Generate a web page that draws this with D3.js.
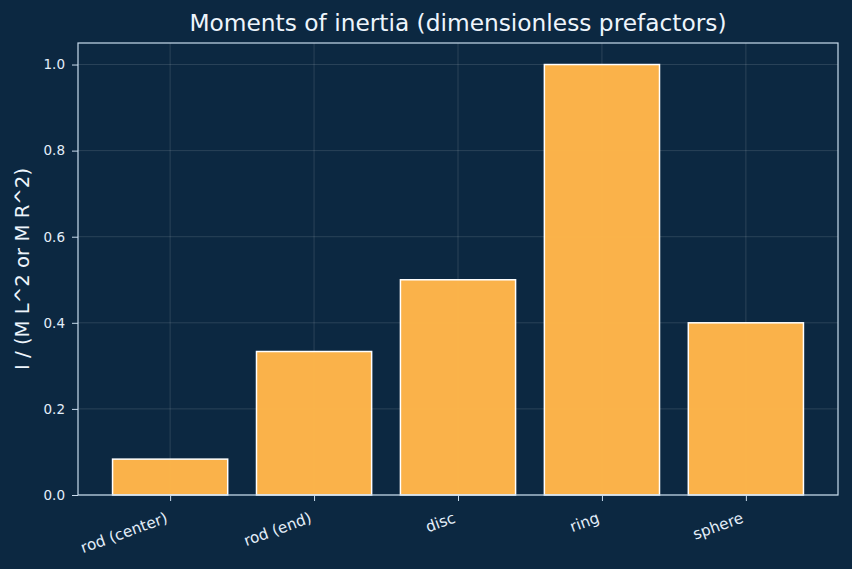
<!DOCTYPE html>
<html><head><meta charset="utf-8">
<script src="https://cdn.jsdelivr.net/npm/d3@7"></script>
<style>html,body{margin:0;padding:0;background:#0c2841;}svg{display:block;font-family:"DejaVu Sans",sans-serif;}</style>
</head><body><div id="chart"></div>
<script>
const categories = ["rod (center)", "rod (end)", "disc", "ring", "sphere"];
const values = [1/12, 1/3, 0.5, 1.0, 0.4];
const yTicks = [0.0, 0.2, 0.4, 0.6, 0.8, 1.0];
const title = "Moments of inertia (dimensionless prefactors)";
const yLabel = "I / (M L^2 or M R^2)";

const W = 852, H = 569;
const m = {left: 78, right: 14, top: 43, bottom: 74};
const bg = "#0c2841", fg = "#e3eef9", spine = "#c9dced";

const svg = d3.select("#chart").append("svg").attr("width", W).attr("height", H);
svg.append("rect").attr("width", W).attr("height", H).attr("fill", bg);

const x = d3.scaleLinear().domain([-0.64, categories.length - 1 + 0.64]).range([m.left, W - m.right]);
const y = d3.scaleLinear().domain([0, 1.05]).range([H - m.bottom, m.top]);

// grid
const g = svg.append("g");
g.selectAll(".gy").data(yTicks).join("line")
  .attr("x1", m.left).attr("x2", W - m.right)
  .attr("y1", d => y(d)).attr("y2", d => y(d))
  .attr("stroke", "#ffffff").attr("stroke-opacity", 0.16).attr("stroke-width", 0.8);
g.selectAll(".gx").data(categories).join("line")
  .attr("x1", (d, i) => x(i)).attr("x2", (d, i) => x(i))
  .attr("y1", m.top).attr("y2", H - m.bottom)
  .attr("stroke", "#ffffff").attr("stroke-opacity", 0.16).attr("stroke-width", 0.8);

// bars
svg.append("g").selectAll("rect").data(values).join("rect")
  .attr("x", (d, i) => x(i - 0.4)).attr("width", (d, i) => x(i + 0.4) - x(i - 0.4))
  .attr("y", d => y(d)).attr("height", d => y(0) - y(d))
  .attr("fill", "#ffb64a").attr("fill-opacity", 0.98)
  .attr("stroke", "#ffffff").attr("stroke-width", 1.5);

// axes
const yAxis = d3.axisLeft(y).tickValues(yTicks).tickFormat(d3.format(".1f")).tickSize(6).tickPadding(7);
const ya = svg.append("g").attr("transform", `translate(${m.left},0)`).call(yAxis);
ya.select(".domain").remove();
ya.selectAll("line").attr("stroke", spine).attr("stroke-width", 1);
ya.selectAll("text").attr("fill", fg).attr("font-size", 13.5).attr("font-family", "DejaVu Sans");

const xAxis = d3.axisBottom(x).tickValues(d3.range(categories.length)).tickFormat(i => categories[i]).tickSize(6);
const xa = svg.append("g").attr("transform", `translate(0,${H - m.bottom})`).call(xAxis);
xa.select(".domain").remove();
xa.selectAll("line").attr("stroke", spine).attr("stroke-width", 1);
xa.selectAll("text").attr("fill", fg).attr("font-size", 15.3).attr("font-family", "DejaVu Sans")
  .attr("text-anchor", "end").attr("x", 0).attr("y", 0).attr("dy", 0)
  .attr("transform", "translate(-2,27) rotate(-20)");

// frame
svg.append("rect").attr("x", m.left).attr("y", m.top)
  .attr("width", W - m.right - m.left).attr("height", H - m.bottom - m.top)
  .attr("fill", "none").attr("stroke", spine).attr("stroke-width", 1.2);

svg.append("text").attr("x", (m.left + W - m.right) / 2).attr("y", 31)
  .attr("text-anchor", "middle").attr("fill", "#eef5fc").attr("font-size", 23.3).text(title);

svg.append("text").attr("transform", `translate(29,${(m.top + H - m.bottom) / 2}) rotate(-90)`)
  .attr("text-anchor", "middle").attr("fill", "#eef5fc").attr("font-size", 19.7).text(yLabel);
</script></body></html>
